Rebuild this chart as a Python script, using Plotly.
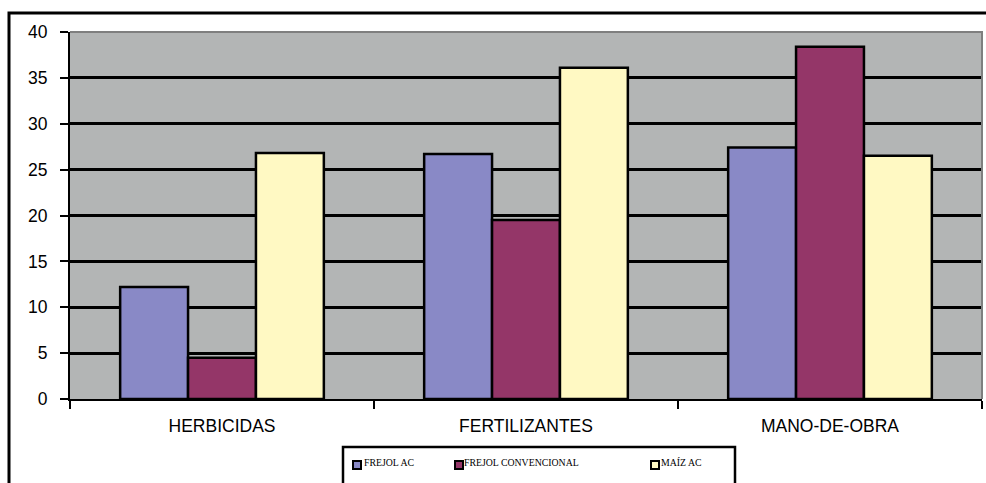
import plotly.graph_objects as go

# Cost shares by input category
categories = ["HERBICIDAS", "FERTILIZANTES", "MANO-DE-OBRA"]
series_names = ["FREJOL AC", "FREJOL CONVENCIONAL", "MAÍZ AC"]
frejol_ac = [12.2, 26.7, 27.4]
frejol_convencional = [4.5, 19.5, 38.4]
maiz_ac = [26.8, 36.1, 26.5]
y_ticks = [0, 5, 10, 15, 20, 25, 30, 35, 40]

series_values = [frejol_ac, frejol_convencional, maiz_ac]
colors = ["#8989C6", "#943668", "#FFF9C3"]

W, H = 986, 483
L, R, T, B = 70, 4, 32, 84
PW, PH = W - L - R, H - T - B


def px(x):
    return (x - L) / PW


def py(y):
    return (H - B - y) / PH


fig = go.Figure()
for name, vals, col in zip(series_names, series_values, colors):
    fig.add_trace(go.Bar(
        x=categories, y=vals, name=name,
        marker=dict(color=col, line=dict(color="black", width=2.5)),
        showlegend=False,
    ))

shapes = []
annotations = []

# Outer chart frame (left and top edges)
shapes.append(dict(type="path", xref="paper", yref="paper",
                   path=f"M {px(9)} {py(490)} L {px(9)} {py(13)} L {px(990)} {py(13)}",
                   line=dict(color="black", width=3)))

# Plot-area top and right border
shapes.append(dict(type="path", xref="paper", yref="paper",
                   path="M 0 1 L 1 1 L 1 0",
                   line=dict(color="#7F7F7F", width=2)))

# Legend box
shapes.append(dict(type="rect", xref="paper", yref="paper",
                   x0=px(343), x1=px(735), y0=py(495), y1=py(447),
                   line=dict(color="black", width=2.5), fillcolor="white"))

marker_x = [357, 459, 655]
text_x = [362, 462, 659]
for name, col, mx, tx in zip(series_names, colors, marker_x, text_x):
    shapes.append(dict(type="rect", xref="paper", yref="paper",
                       x0=px(mx - 4), x1=px(mx + 4), y0=py(469), y1=py(461),
                       line=dict(color="black", width=2), fillcolor=col))
    annotations.append(dict(text=name, xref="paper", yref="paper",
                            x=px(tx), y=py(462), xanchor="left", yanchor="middle",
                            showarrow=False,
                            font=dict(family="Liberation Serif", size=9.8, color="black")))

fig.update_layout(
    width=W, height=H,
    margin=dict(l=L, r=R, t=T, b=B),
    paper_bgcolor="white",
    plot_bgcolor="#B3B5B5",
    barmode="group",
    bargap=0.33,
    bargroupgap=0,
    showlegend=False,
    shapes=shapes,
    annotations=annotations,
    font=dict(family="Liberation Sans", color="black"),
    xaxis=dict(
        type="category",
        showline=True, linecolor="black", linewidth=2,
        ticks="outside", tickson="boundaries", ticklen=8, tickwidth=2, tickcolor="black",
        tickfont=dict(size=17.5),
        showgrid=False,
        ticklabelstandoff=10,
    ),
    yaxis=dict(
        range=[0, 40],
        tickvals=y_ticks,
        showline=True, linecolor="black", linewidth=2,
        ticks="outside", ticklen=8, tickwidth=2, tickcolor="black",
        tickfont=dict(size=17.5),
        showgrid=True, gridcolor="black", gridwidth=2.5,
        zeroline=False,
        ticklabelstandoff=9,
    ),
)

fig.write_html("out.html")
